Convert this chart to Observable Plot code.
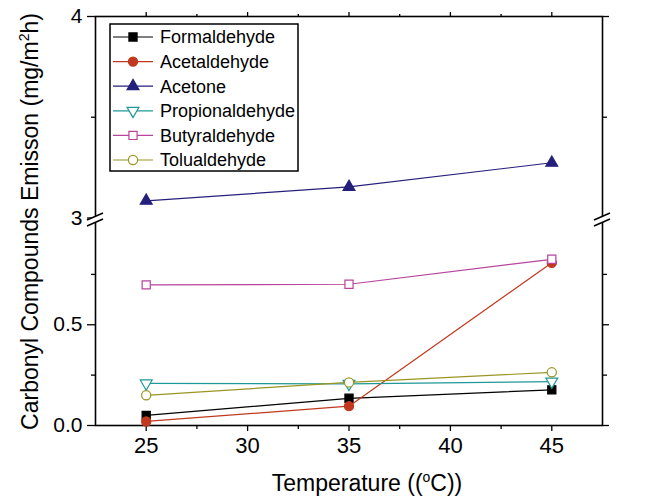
<!DOCTYPE html>
<html><head><meta charset="utf-8">
<script src="https://cdn.jsdelivr.net/npm/d3@7"></script>
<script src="https://cdn.jsdelivr.net/npm/@observablehq/plot@0.6"></script>
<style>
body{margin:0;background:#fff}
svg{display:block}
</style>
</head><body><div id="chart"></div>
<script>
// ---- data ----
const temperatures = [25, 35, 45];
const seriesNames = ["Formaldehyde", "Acetaldehyde", "Acetone", "Propionaldehyde", "Butyraldehyde", "Tolualdehyde"];
const formaldehyde = [0.05, 0.135, 0.177];
const acetaldehyde = [0.02, 0.096, 0.808];
const acetone = [3.085, 3.154, 3.274];
const propionaldehyde = [0.209, 0.207, 0.218];
const butyraldehyde = [0.698, 0.701, 0.825];
const tolualdehyde = [0.15, 0.214, 0.264];
const seriesValues = [formaldehyde, acetaldehyde, acetone, propionaldehyde, butyraldehyde, tolualdehyde];
const seriesColors = ["#000000", "#c0391e", "#251f7c", "#1f9898", "#b8449c", "#9a9522"];
const xMajorTicks = [25, 30, 35, 40, 45];
const xMinorTicks = [27.5, 32.5, 37.5, 42.5];
const yMajorTicks = [0, 0.5, 3, 4];
const yTickLabels = ["0.0", "0.5", "3", "4"];
const yMinorTicks = [0.25, 0.75, 3.5];
const xTitle = ["Temperature ((", "o", "C))"];
const yTitle = ["Carbonyl Compounds Emisson (mg/m", "2", "h)"];

// ---- broken axis transform ----
const LOWER_TOP = 1.03;            // position where the upper segment (3..4) starts
const BREAK_AT = 1.02;             // position of the break marks
const ty = v => v >= 2 ? v - 3 + LOWER_TOP : v;

const sqrt3 = Math.sqrt(3);
const triangleDown = {
  draw(context, size) {
    const y = Math.sqrt(size / (sqrt3 * 3));
    context.moveTo(0, y * 2);
    context.lineTo(-sqrt3 * y, -y);
    context.lineTo(sqrt3 * y, -y);
    context.closePath();
  }
};
const symbols = ["square", "circle", "triangle", triangleDown, "square", "circle"];
const filled = [true, true, true, false, false, false];
const radii = [4.6, 4.6, 4.4, 4.4, 4.6, 4.6];

const rows = seriesNames.flatMap((name, i) =>
  temperatures.map((t, j) => ({series: name, idx: i, t, v: seriesValues[i][j]})));

const FONT = "'Liberation Sans', Arial, Helvetica, sans-serif";

const seriesMarks = seriesNames.flatMap((name, i) => {
  const d = rows.filter(r => r.idx === i);
  return [
    Plot.line(d, {x: "t", y: r => ty(r.v), stroke: seriesColors[i], strokeWidth: 1.2}),
    Plot.dot(d, {x: "t", y: r => ty(r.v), symbol: symbols[i], r: radii[i],
      fill: filled[i] ? seriesColors[i] : "white", stroke: seriesColors[i], strokeWidth: 1.2})
  ];
});

const yLabel = d => {
  const k = yMajorTicks.findIndex(v => Math.abs(ty(v) - d) < 1e-9);
  return k >= 0 ? yTickLabels[k] : "";
};

const chart = Plot.plot({
  width: 664,
  height: 499,
  marginLeft: 95,
  marginRight: 62,
  marginTop: 16,
  marginBottom: 74,
  style: {fontFamily: FONT, background: "white", color: "black", overflow: "visible"},
  x: {domain: [22.5, 47.5]},
  y: {domain: [0, ty(4)]},
  marks: [
    Plot.axisX({ticks: xMajorTicks, tickSize: 6, tickPadding: 6, fontSize: 22, label: null, strokeWidth: 1.3}),
    Plot.axisX({ticks: xMinorTicks, tickSize: 4, tickFormat: () => "", label: null, strokeWidth: 1.3}),
    Plot.axisX({anchor: "top", ticks: xMajorTicks, tickSize: 5, tickFormat: () => "", label: null, strokeWidth: 1.3}),
    Plot.axisX({anchor: "top", ticks: xMinorTicks, tickSize: 3, tickFormat: () => "", label: null, strokeWidth: 1.3}),
    Plot.axisY({ticks: yMajorTicks.map(ty), tickFormat: yLabel, tickSize: 8, tickPadding: 5, fontSize: 21, label: null, strokeWidth: 1.3}),
    Plot.axisY({ticks: yMinorTicks.map(ty), tickSize: 4, tickFormat: () => "", label: null, strokeWidth: 1.3}),
    Plot.axisY({anchor: "right", ticks: yMajorTicks.map(ty), tickSize: 6, tickFormat: () => "", label: null, strokeWidth: 1.3}),
    Plot.axisY({anchor: "right", ticks: yMinorTicks.map(ty), tickSize: 4, tickFormat: () => "", label: null, strokeWidth: 1.3}),
    Plot.frame({stroke: "black", strokeWidth: 1.6}),
    ...seriesMarks
  ]
});

document.getElementById("chart").appendChild(chart);

// ---- decorations: break marks, titles, legend ----
const svg = d3.select(chart);
const xs = chart.scale("x"), ys = chart.scale("y");
const yb = ys.apply(BREAK_AT);
[xs.apply(22.5), xs.apply(47.5)].forEach(xb => {
  const g = svg.append("g");
  g.append("path")
    .attr("d", `M${xb - 7},${yb + 6}L${xb + 7},${yb}L${xb + 7},${yb - 6}L${xb - 7},${yb}Z`)
    .attr("fill", "white");
  g.append("path").attr("d", `M${xb - 8},${yb + 6.5}L${xb + 8},${yb - 0.5}`).attr("stroke", "black").attr("stroke-width", 1.5);
  g.append("path").attr("d", `M${xb - 8},${yb + 0.5}L${xb + 8},${yb - 6.5}`).attr("stroke", "black").attr("stroke-width", 1.5);
});

const xt = svg.append("text")
  .attr("x", 367).attr("y", 491)
  .attr("text-anchor", "middle")
  .attr("font-family", FONT).attr("font-size", 23).attr("fill", "black");
xt.append("tspan").text(xTitle[0]);
xt.append("tspan").attr("font-size", 14).attr("dy", -9).text(xTitle[1]);
xt.append("tspan").attr("dy", 9).text(xTitle[2]);

const yt = svg.append("text")
  .attr("transform", `translate(38,${(16 + 425) / 2 + 1}) rotate(-90)`)
  .attr("text-anchor", "middle")
  .attr("font-family", FONT).attr("font-size", 23).attr("fill", "black");
yt.append("tspan").text(yTitle[0]);
yt.append("tspan").attr("font-size", 14).attr("dy", -9).text(yTitle[1]);
yt.append("tspan").attr("dy", 9).text(yTitle[2]);

// legend
const lg = svg.append("g");
lg.append("rect").attr("x", 110).attr("y", 24).attr("width", 188).attr("height", 147)
  .attr("fill", "white").attr("stroke", "black").attr("stroke-width", 1.5);
seriesNames.forEach((name, i) => {
  const cy = 37 + i * 24.6;
  lg.append("line").attr("x1", 113).attr("x2", 153).attr("y1", cy).attr("y2", cy)
    .attr("stroke", seriesColors[i]).attr("stroke-width", 1.2);
  const sym = typeof symbols[i] === "string" ? {square: d3.symbolSquare, circle: d3.symbolCircle, triangle: d3.symbolTriangle}[symbols[i]] : symbols[i];
  lg.append("path").attr("transform", `translate(133,${cy})`)
    .attr("d", d3.symbol(sym, Math.PI * radii[i] * radii[i])())
    .attr("fill", filled[i] ? seriesColors[i] : "white")
    .attr("stroke", seriesColors[i]).attr("stroke-width", 1.2);
  lg.append("text").attr("x", 160).attr("y", cy).attr("dy", "0.36em")
    .attr("text-anchor", "start")
    .attr("font-family", FONT).attr("font-size", 18).attr("fill", "black").text(name);
});
</script>
</body></html>
